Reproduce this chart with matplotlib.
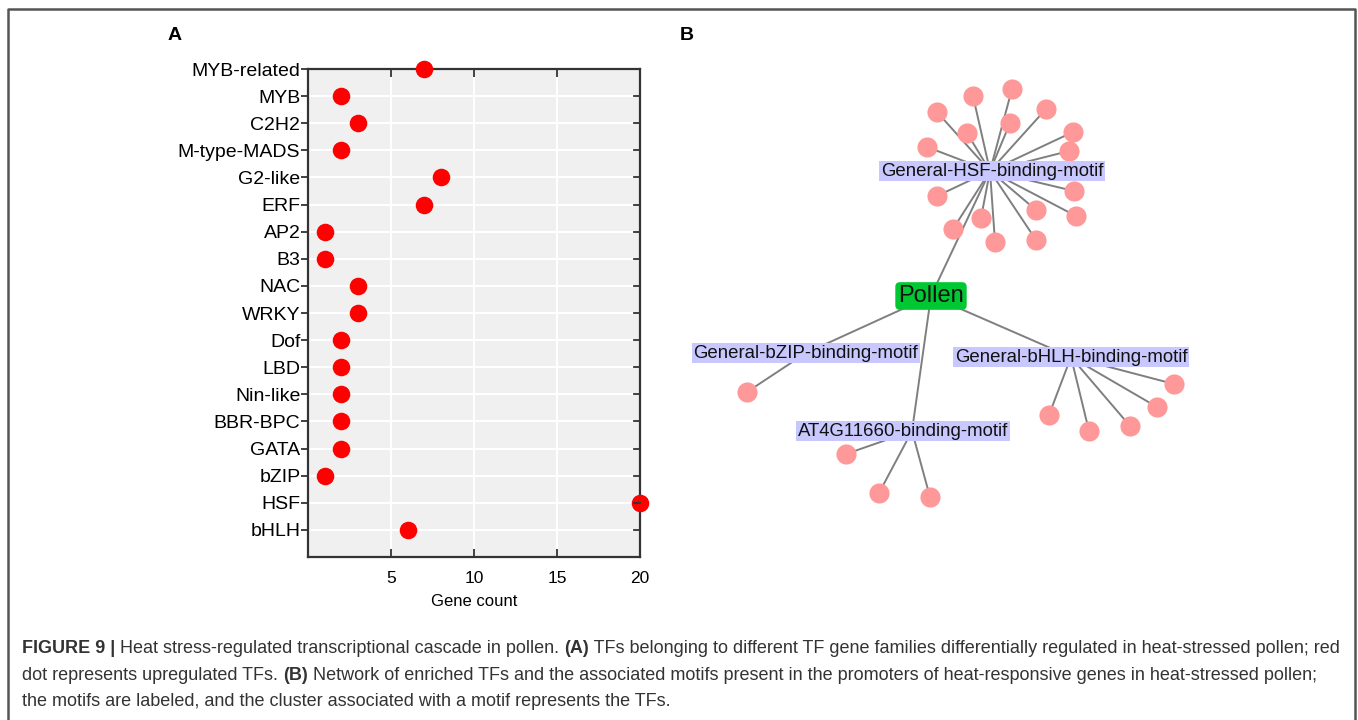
import matplotlib
matplotlib.use("Agg")
import matplotlib.pyplot as plt

plt.rcParams['font.family'] = ['Liberation Sans', 'DejaVu Sans']

# panel A data
families = ['MYB-related', 'MYB', 'C2H2', 'M-type-MADS', 'G2-like', 'ERF', 'AP2', 'B3',
            'NAC', 'WRKY', 'Dof', 'LBD', 'Nin-like', 'BBR-BPC', 'GATA', 'bZIP', 'HSF', 'bHLH']
counts = [7, 2, 3, 2, 8, 7, 1, 1, 3, 3, 2, 2, 2, 2, 2, 1, 20, 6]

# panel B network (layout positions in figure pixels)
root = ('Pollen', 931, 296)
motifs = ['General-HSF-binding-motif', 'General-bZIP-binding-motif',
          'General-bHLH-binding-motif', 'AT4G11660-binding-motif']
motif_x = [990, 806, 1071, 912]
motif_y = [171, 353, 357, 431]
label_x = [992, 806, 1071, 903]
tf_nodes = {
    'General-HSF-binding-motif': [(937, 112), (973, 96), (1012, 89), (1046, 109), (967, 133),
                                  (1010, 123), (1073, 132), (927, 147), (1069, 151), (937, 196),
                                  (1074, 191), (981, 218), (1036, 210), (1076, 216), (953, 229),
                                  (995, 242), (1036, 240)],
    'General-bZIP-binding-motif': [(747, 392)],
    'General-bHLH-binding-motif': [(1174, 384), (1157, 407), (1130, 426), (1089, 431), (1049, 415)],
    'AT4G11660-binding-motif': [(846, 454), (879, 493), (930, 497)],
}

W, H = 1358, 720
fig = plt.figure(figsize=(W / 100, H / 100), dpi=100)

# ---- panel A ----
ax = fig.add_axes([308 / W, 1 - 557 / H, 332 / W, 488 / H])
ypos = list(range(len(families) - 1, -1, -1))
ax.set_facecolor('#f0f0f0')
ax.set_axisbelow(True)
ax.grid(True, color='white', linewidth=1.5)
ax.scatter(counts, ypos, s=160, color='#ff0000', zorder=3, clip_on=False, linewidths=0)
ax.set_xlim(0, 20)
ax.set_ylim(-1, len(families) - 1)
ax.set_xticks([5, 10, 15, 20])
ax.set_yticks(ypos)
ax.set_yticklabels(families, fontsize=14)
ax.tick_params(axis='x', labelsize=12.5, direction='in', top=True, length=6, width=1.3,
               color='#333333', pad=10)
ax.tick_params(axis='y', direction='out', right=False, length=5, width=1.3, color='#333333', pad=0.5)
for t in ypos:
    ax.plot([19.65, 20], [t, t], color='#333333', lw=1.3, zorder=4, clip_on=False)
for s in ax.spines.values():
    s.set_color('#333333')
    s.set_linewidth(1.6)
ax.set_xlabel('Gene count', fontsize=12, labelpad=6)

# ---- panel B ----
net = fig.add_axes([0, 0, 1, 1])
net.set_xlim(0, W)
net.set_ylim(H, 0)
net.axis('off')
net.patch.set_alpha(0)

edge_kw = dict(color='#7f7f7f', lw=1.4, zorder=1)
for m, mx, my in zip(motifs, motif_x, motif_y):
    net.plot([root[1], mx], [root[2], my], **edge_kw)
    for (tx, ty) in tf_nodes[m]:
        net.plot([mx, tx], [my, ty], **edge_kw)
        net.plot(tx, ty, 'o', ms=14.5, color='#ff9999', mec='none', zorder=2)

for m, lx, my in zip(motifs, label_x, motif_y):
    net.text(lx, my, m, fontsize=13.4, ha='center', va='center', color='#111111', zorder=3,
             bbox=dict(boxstyle='square,pad=0.1', fc='#c8c8ff', ec='none'))

net.text(root[1], root[2], root[0], fontsize=17, ha='center', va='center', color='#111111',
         zorder=3, bbox=dict(boxstyle='round,pad=0.12,rounding_size=0.2', fc='#00c832', ec='none'))

# panel letters
fig.text(168 / W, 1 - 35 / H, 'A', fontsize=14, fontweight='bold', va='center')
fig.text(680 / W, 1 - 35 / H, 'B', fontsize=14, fontweight='bold', va='center')

# outer frame
net.plot([8, 8, 1355, 1355], [H + 5, 9, 9, H + 5], color='#555555', lw=1.8, clip_on=False)

# caption
cap_font = ['Liberation Sans', 'DejaVu Sans']
lines = [
    [('FIGURE 9 |', 'bold'), (' Heat stress-regulated transcriptional cascade in pollen. ', 'normal'),
     ('(A)', 'bold'), (' TFs belonging to different TF gene families differentially regulated in heat-stressed pollen; red', 'normal')],
    [('dot represents upregulated TFs. ', 'normal'), ('(B)', 'bold'),
     (' Network of enriched TFs and the associated motifs present in the promoters of heat-responsive genes in heat-stressed pollen;', 'normal')],
    [('the motifs are labeled, and the cluster associated with a motif represents the TFs.', 'normal')],
]
line_y = [657, 684, 710]
for parts, yb in zip(lines, line_y):
    prev = None
    for txt, wt in parts:
        if prev is None:
            prev = net.annotate(txt, xy=(22, yb), xycoords='data', ha='left', va='bottom',
                                fontsize=13, fontweight=wt, family=cap_font, color='#333333')
        else:
            prev = net.annotate(txt, xy=(1, 0), xycoords=prev, ha='left', va='bottom',
                                fontsize=13, fontweight=wt, family=cap_font, color='#333333')

fig.savefig('out.png', dpi=100)
